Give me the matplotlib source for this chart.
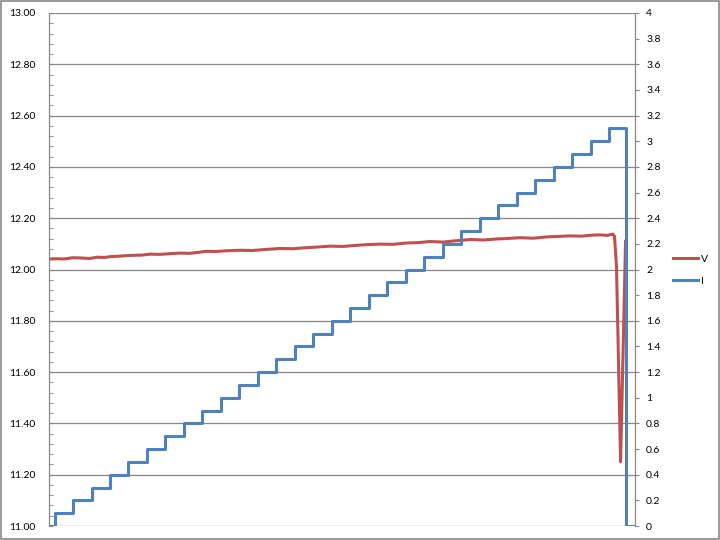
import matplotlib
matplotlib.use("Agg")
import matplotlib.pyplot as plt
from matplotlib.lines import Line2D
from matplotlib.patches import Rectangle
from matplotlib.ticker import MultipleLocator, FormatStrFormatter, FuncFormatter

# --- Data (time in s) -------------------------------------------------------
v_time = [0, 4, 8, 13, 17, 22, 26, 30, 33, 38, 44, 50, 55, 60, 66, 71, 76,
          81, 85, 90, 96, 103, 110, 117, 125, 132, 139, 146, 152, 159, 166,
          172, 179, 186, 193, 200, 206, 213, 220, 228, 235, 242, 248, 255,
          262, 269, 275, 282, 288, 294, 298, 302, 305, 305.9, 307.0, 309.2,
          311.9]
v_volts = [12.041, 12.042, 12.041, 12.046, 12.045, 12.043, 12.048, 12.047,
           12.050, 12.052, 12.055, 12.056, 12.060, 12.059, 12.062, 12.064,
           12.063, 12.067, 12.071, 12.070, 12.073, 12.075, 12.074, 12.078,
           12.082, 12.081, 12.085, 12.088, 12.091, 12.090, 12.094, 12.097,
           12.099, 12.098, 12.103, 12.105, 12.109, 12.107, 12.112, 12.117,
           12.115, 12.119, 12.121, 12.124, 12.122, 12.127, 12.129, 12.131,
           12.130, 12.134, 12.135, 12.133, 12.138, 12.130, 12.010, 11.250,
           12.110]

i_time = [0, 3, 13, 23, 33, 43, 53, 63, 73, 83, 93, 103, 113, 123, 133, 143,
          153, 163, 173, 183, 193, 203, 213, 223, 233, 243, 253, 263, 273,
          283, 293, 303, 312.4, 316.3]
i_amps = [0.0, 0.1, 0.2, 0.3, 0.4, 0.5, 0.6, 0.7, 0.8, 0.9, 1.0, 1.1, 1.2,
          1.3, 1.4, 1.5, 1.6, 1.7, 1.8, 1.9, 2.0, 2.1, 2.2, 2.3, 2.4, 2.5,
          2.6, 2.7, 2.8, 2.9, 3.0, 3.1, 0.0, 0.0]

RED = "#C0504D"
BLUE = "#4F81BD"
GRID = "#878787"
FONT = "Lato"

# --- Figure -----------------------------------------------------------------
fig = plt.figure(figsize=(7.2, 5.4), dpi=100)
fig.patches.append(Rectangle((0.001, 0.001), 0.998, 0.997, transform=fig.transFigure,
                             fill=False, edgecolor=GRID, linewidth=1.2))

ax = fig.add_axes([49 / 720, 14 / 540, 586 / 720, 513 / 540])
ax2 = ax.twinx()

ax.plot(v_time, v_volts, color=RED, linewidth=2.2, solid_joinstyle="round")
ax2.plot(i_time, i_amps, color=BLUE, linewidth=2.2, drawstyle="steps-post")

ax.set_xlim(0, 317)
ax.set_ylim(11.0, 13.0)
ax2.set_ylim(0, 4)

ax.yaxis.set_major_locator(MultipleLocator(0.2))
ax.yaxis.set_minor_locator(MultipleLocator(0.04))
ax.yaxis.set_major_formatter(FormatStrFormatter("%.2f"))
ax.grid(axis="y", color=GRID, linewidth=0.9)
ax.set_axisbelow(True)
ax.set_xticks([])
ax.tick_params(axis="y", which="both", direction="in", length=3, color=GRID,
               labelsize=7.5, pad=10)

ax2.yaxis.set_major_locator(MultipleLocator(0.2))
ax2.yaxis.set_major_formatter(FuncFormatter(lambda v, p: f"{v:g}"))
ax2.tick_params(axis="y", direction="out", length=3, color=GRID,
                labelsize=7.5, pad=5)

for a in (ax, ax2):
    for side in ("top", "bottom"):
        a.spines[side].set_visible(False)
    a.spines["left"].set_color(GRID)
    a.spines["right"].set_color(GRID)
    for lab in a.get_yticklabels():
        lab.set_fontfamily(FONT)

handles = [Line2D([], [], color=RED, linewidth=2.2),
           Line2D([], [], color=BLUE, linewidth=2.2)]
fig.legend(handles, ["V", "I"], loc="center left", bbox_to_anchor=(673 / 720, 0.5),
           frameon=False, borderpad=0, borderaxespad=0, handlelength=2.4,
           handletextpad=0.25, labelspacing=1.2, prop={"family": FONT, "size": 7.5})

fig.savefig("out.png", dpi=100)
